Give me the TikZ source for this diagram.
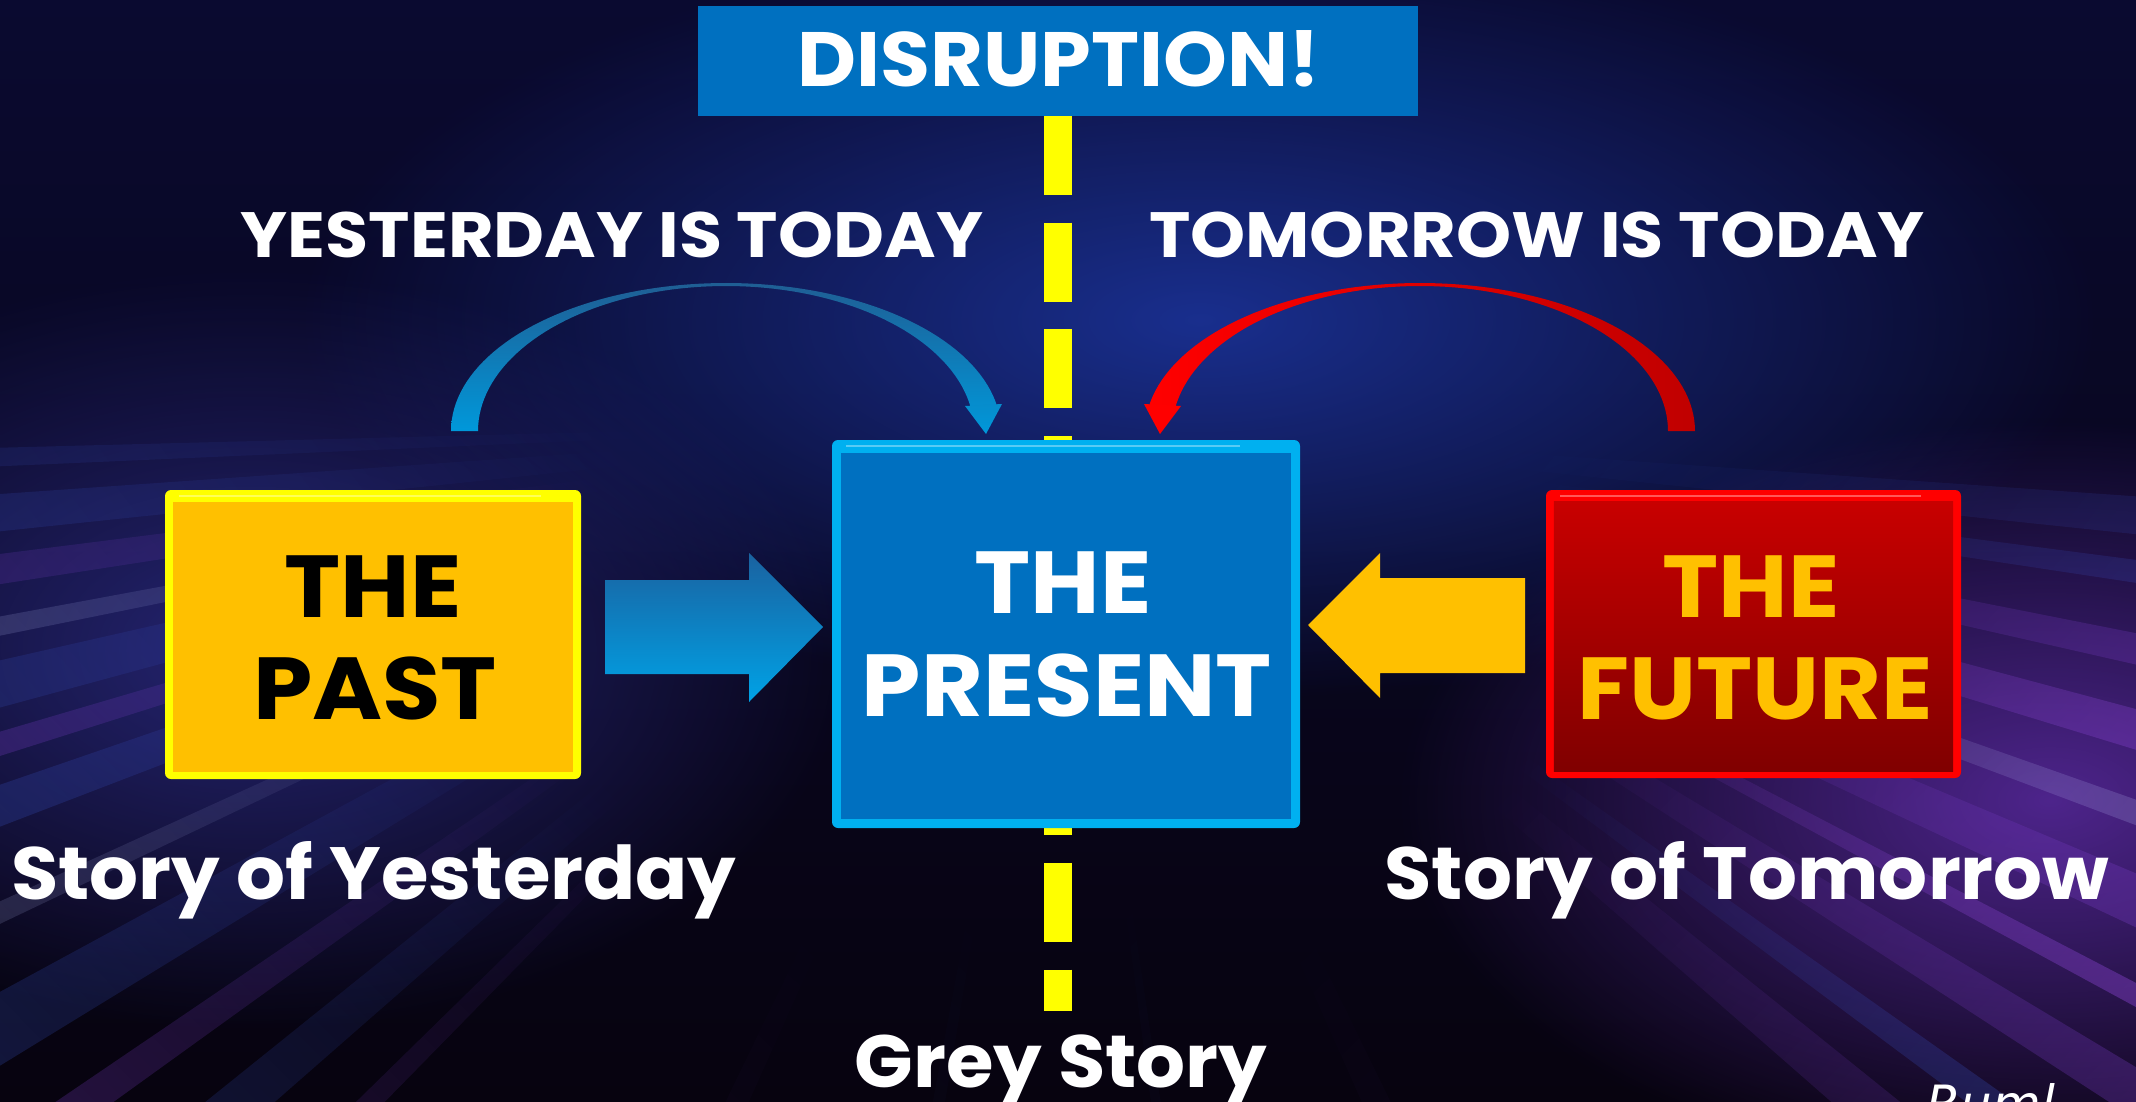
\documentclass[tikz,border=0pt]{standalone}
\usepackage{fontspec}
\setmainfont{Poppins}
\newfontfamily\sigfont{DejaVu Sans}
\usetikzlibrary{calc,fadings}
\definecolor{bgA}{HTML}{0A0A30}
\definecolor{bgB}{HTML}{07030F}
\definecolor{glowblue}{HTML}{1B3399}
\definecolor{glowpurp}{HTML}{5A2AA0}
\definecolor{glowleft}{HTML}{2A2A80}
\definecolor{sblue}{HTML}{4060E0}
\definecolor{spurp}{HTML}{8040D0}
\definecolor{sviol}{HTML}{A050F0}
\definecolor{swhite}{HTML}{C0C8FF}
\definecolor{bannerblue}{HTML}{0070C0}
\definecolor{dashY}{HTML}{FFFF00}
\definecolor{gold}{HTML}{FFC000}
\definecolor{pastborder}{HTML}{FFFF00}
\definecolor{presborder}{HTML}{00B0F0}
\definecolor{presfill}{HTML}{0070C0}
\definecolor{futborder}{HTML}{FF0000}
\definecolor{futtop}{HTML}{C80000}
\definecolor{futbot}{HTML}{800000}
\definecolor{arcbluetop}{HTML}{1F5E94}
\definecolor{arcbluebot}{HTML}{0098DA}
\definecolor{arcredL}{HTML}{FF0000}
\definecolor{arcredR}{HTML}{C00000}
\definecolor{arrowbluetop}{HTML}{1A62A0}
\definecolor{arrowbluebot}{HTML}{00A2E6}
\tikzfading[name=softglow, inner color=transparent!0, outer color=transparent!100]
\tikzfading[name=streakfade, left color=transparent!100, right color=transparent!0]
\begin{document}
\begin{tikzpicture}[x=1pt,y=-1pt,
  canbox/.style={rounded corners=6pt, minimum width=#1, inner sep=0pt},
  disrtxt/.style={text=white, inner sep=0pt, anchor=base, font=\bfseries\fontsize{77}{80}\selectfont\addfontfeature{FakeStretch=1.055}},
  hdrtxt/.style={text=white, inner sep=0pt, anchor=base, font=\bfseries\fontsize{64}{70}\selectfont\addfontfeature{FakeStretch=1.095}},
  boxtxt/.style={inner sep=0pt, anchor=base, font=\bfseries\fontsize{88}{90}\selectfont\addfontfeature{FakeStretch=1.08}},
  storytxt/.style={text=white, inner sep=0pt, anchor=base, font=\bfseries\fontsize{74}{80}\selectfont\addfontfeature{FakeStretch=1.04}},
  stripe/.style={white, opacity=0.35, line width=1.5pt}
]
\useasboundingbox (0,0) rectangle (2136,1102);
% ---------- background ----------
\shade[top color=bgA, bottom color=bgB] (0,0) rectangle (2136,1102);
\fill[glowblue, path fading=softglow, fit fading=true, opacity=0.9] (1200,320) ellipse [x radius=900, y radius=380];
\fill[glowpurp, path fading=softglow, fit fading=true, opacity=0.85] (2050,800) ellipse [x radius=650, y radius=380];
\fill[glowleft, path fading=softglow, fit fading=true, opacity=0.85] (250,650) ellipse [x radius=600, y radius=380];
\coordinate (vp) at (1060,420);
\foreach \a/\w/\c/\o in {160/1.0/sblue/0.36, 163/0.6/spurp/0.45, 166/1.2/sblue/0.3, 169/0.5/swhite/0.3,
  172/0.8/spurp/0.36, 175/1.0/sblue/0.3, 178/0.5/sblue/0.24, 150/1.5/sblue/0.3, 145/0.8/spurp/0.36,
  140/1.2/sblue/0.3, 135/0.6/spurp/0.3, 155/0.5/swhite/0.24,
  12/0.8/spurp/0.45, 16/1.0/sviol/0.45, 20/0.6/swhite/0.32, 24/1.2/spurp/0.45, 28/0.5/sviol/0.5,
  32/1.0/spurp/0.4, 36/0.7/sblue/0.38, 40/1.2/spurp/0.32, 8/0.6/sblue/0.32, 5/1.0/sblue/0.25,
  82/0.4/sblue/0.15, 100/0.5/sblue/0.12, 115/0.8/spurp/0.12, 65/1.0/spurp/0.12}
{
  \fill[\c, opacity=\o, path fading=streakfade, fit fading=true, fading angle=-\a]
    ($(vp)+(\a-\w:380)$) -- ($(vp)+(\a-\w:1700)$) -- ($(vp)+(\a+\w:1700)$) -- ($(vp)+(\a+\w:380)$) -- cycle;
}
% ---------- dashed centre line ----------
\coordinate (dashtop) at (1058,116);
\coordinate (dashbot) at (1058,1011);
\draw[dashY, line width=28pt, dash pattern=on 79pt off 27.7pt] (dashtop) -- (dashbot);
% ---------- banner ----------
\node[fill=bannerblue, minimum width=720pt, minimum height=110pt, inner sep=0pt] (banner) at (1058,61) {};
\node[disrtxt] (disr) at (1059,87) {DISRUPTION!};
% ---------- headers ----------
\node[hdrtxt] (yest) at (612,257) {YESTERDAY IS TODAY};
\node[hdrtxt] (tomo) at (1537,257) {TOMORROW IS TODAY};
% ---------- boxes ----------
\node[canbox=416pt, minimum height=289pt, fill=pastborder] (past) at (373,634.5) {};
\fill[gold] ([shift={(8pt,-12pt)}]past.north west) rectangle ([shift={(-8pt,7pt)}]past.south east);
\draw[stripe] ([shift={(14pt,-6pt)}]past.north west) -- ([shift={(-40pt,-6pt)}]past.north east);

\node[canbox=468pt, minimum height=388pt, fill=presborder] (present) at (1066,634) {};
\fill[presfill] ([shift={(9pt,-13pt)}]present.north west) rectangle ([shift={(-9pt,9pt)}]present.south east);
\draw[stripe] ([shift={(14pt,-6pt)}]present.north west) -- ([shift={(-60pt,-6pt)}]present.north east);

\node[canbox=415pt, minimum height=288pt, fill=futborder] (future) at (1753.5,634) {};
\shade[top color=futtop, bottom color=futbot] ([shift={(8pt,-12pt)}]future.north west) rectangle ([shift={(-8pt,7pt)}]future.south east);
\draw[stripe] ([shift={(14pt,-6pt)}]future.north west) -- ([shift={(-40pt,-6pt)}]future.north east);

% ---------- box texts ----------
\node[boxtxt, text=black] (pastA) at (373,617) {THE};
\node[boxtxt, text=black] (pastB) at (375,719) {PAST};
\node[boxtxt, text=white] (presA) at (1063,613) {THE};
\node[boxtxt, text=white] (presB) at (1067,716) {PRESENT};
\node[boxtxt, text=gold] (futA) at (1751,617) {THE};
\node[boxtxt, text=gold] (futB) at (1755,719) {FUTURE};
% ---------- block arrows ----------
\shade[top color=arrowbluetop, bottom color=arrowbluebot]
  (605,580) -- (749,580) -- (749,553) -- (823,627) -- (749,702) -- (749,674) -- (605,674) -- cycle;
\fill[gold]
  (1525,578) -- (1380,578) -- (1380,553) -- (1308,625) -- (1380,698) -- (1380,673) -- (1525,673) -- cycle;
% ---------- curved arrows ----------
\shade[top color=arcbluetop, bottom color=arcbluebot]
  plot[domain=180:9.3, samples=80] ({726+275*cos(\x)},{431-148*sin(\x)})
  -- plot[domain=9.5:180, samples=80] ({726+248*cos(\x)},{431-145*sin(\x)}) -- cycle;
\shade[top color=arcbluebot!80!arcbluetop, bottom color=arcbluebot] (965,406) -- (1002,404) -- (986,434) -- cycle;
\shade[left color=arcredL, right color=arcredR]
  plot[domain=170.7:0, samples=80] ({1420+275*cos(\x)},{431-148*sin(\x)})
  -- plot[domain=0:170.5, samples=80] ({1420+248*cos(\x)},{431-145*sin(\x)}) -- cycle;
\fill[arcredL] (1181,406) -- (1144,404) -- (1160,434) -- cycle;
% ---------- bottom texts ----------
\node[storytxt] (storyY) at (374,899) {Story of Yesterday};
\node[storytxt] (storyT) at (1747,899) {Story of Tomorrow};
\node[storytxt] (grey) at (1061,1087) {Grey Story};
\node[anchor=north west, inner sep=0pt, text=white, font=\sigfont\itshape\fontsize{50}{50}\selectfont] (sig) at (1926,1083) {Ruml};
\end{tikzpicture}
\end{document}
